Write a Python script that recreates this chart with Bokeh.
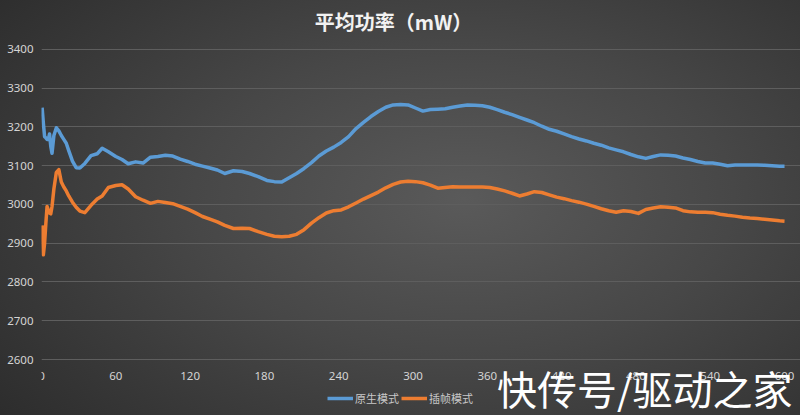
from bokeh.plotting import figure
from bokeh.models import Range1d, Legend, LegendItem, Label, FixedTicker, ColumnDataSource
from bokeh.embed import file_html
from bokeh.resources import INLINE

title_text = "平均功率（mW）"
series_names = ["原生模式", "插帧模式"]
watermark_text = "快传号/驱动之家"
x_ticks = [0, 60, 120, 180, 240, 300, 360, 420, 480, 540, 600]
y_ticks = [2600, 2700, 2800, 2900, 3000, 3100, 3200, 3300, 3400]

time_s = [0.5, 1.5, 2.5, 3.5, 4.5, 5.5, 6.5, 7.5, 8.5, 10, 12, 14, 16, 18, 20, 22, 25, 28, 31, 35,
          40, 45, 49, 54, 60, 65, 70, 76, 82, 88, 94, 100, 106, 112, 118, 124, 130, 136, 142, 148,
          155, 162, 168, 175, 182, 188, 194, 200, 206, 212, 218, 224, 230, 236, 242, 248, 254, 260,
          266, 272, 278, 284, 290, 296, 302, 308, 314, 320, 326, 332, 338, 344, 350, 356, 362, 368,
          374, 380, 386, 392, 398, 404, 410, 416, 422, 428, 434, 440, 446, 452, 458, 464, 470, 476,
          482, 488, 494, 500, 506, 512, 518, 524, 530, 536, 542, 548, 554, 560, 566, 572, 578, 584,
          590, 596, 600]

native_mw = [3250, 3210, 3175, 3172, 3168, 3168, 3182, 3150, 3132, 3178, 3198, 3190, 3178, 3168,
             3158, 3139, 3112, 3095, 3094, 3106, 3126, 3131, 3145, 3136, 3124, 3116, 3105, 3110,
             3107, 3122, 3124, 3127, 3125, 3117, 3111, 3104, 3099, 3094, 3089, 3080, 3087, 3085,
             3080, 3072, 3062, 3059, 3058, 3069, 3080, 3093, 3108, 3125, 3138, 3148, 3160, 3175,
             3196, 3212, 3227, 3240, 3251, 3257, 3258, 3257, 3249, 3241, 3245, 3246, 3247, 3251,
             3254, 3257, 3256, 3255, 3251, 3245, 3238, 3232, 3225, 3218, 3211, 3202, 3194, 3189,
             3182, 3175, 3169, 3164, 3158, 3153, 3146, 3141, 3136, 3129, 3123, 3119, 3124, 3128,
             3127, 3125, 3120, 3116, 3111, 3107, 3107, 3104, 3100, 3102, 3102, 3102, 3102, 3101,
             3100, 3099, 3099]

interp_mw = [2946, 2870, 2900, 2950, 2995, 2985, 2978, 2976, 2995, 3040, 3083, 3090, 3058, 3045,
             3035, 3022, 3006, 2993, 2983, 2979, 2998, 3014, 3022, 3044, 3049, 3051, 3040, 3020,
             3011, 3003, 3008, 3005, 3002, 2995, 2988, 2979, 2969, 2962, 2955, 2946, 2938, 2939,
             2938, 2930, 2923, 2918, 2917, 2918, 2923, 2935, 2952, 2966, 2978, 2984, 2986, 2994,
             3004, 3014, 3023, 3032, 3043, 3052, 3058, 3060, 3059, 3056, 3050, 3042, 3044, 3046,
             3045, 3045, 3045, 3045, 3044, 3040, 3035, 3029, 3022, 3027, 3033, 3031, 3025, 3019,
             3015, 3010, 3006, 3001, 2995, 2989, 2984, 2980, 2984, 2982, 2977, 2987, 2991, 2994,
             2993, 2991, 2984, 2981, 2980, 2980, 2979, 2975, 2972, 2970, 2967, 2965, 2964, 2962,
             2960, 2958, 2957]

BLUE = "#5b9bd5"
ORANGE = "#ed7d31"

src = ColumnDataSource(dict(t=time_s, native=native_mw, interp=interp_mw))

# the frame spans the full height so the title, legend and watermark are not clipped
p = figure(width=800, height=415, output_backend="svg", toolbar_location=None,
           x_range=Range1d(0, 612.9), y_range=Range1d(2455.5, 3526.4),
           min_border_left=41, min_border_right=0, min_border_top=0, min_border_bottom=0)
p.background_fill_color = None
p.border_fill_color = None
p.outline_line_color = None

r1 = p.line("t", "native", source=src, color=BLUE, line_width=3.5, line_join="round")
r2 = p.line("t", "interp", source=src, color=ORANGE, line_width=3.5, line_join="round")

for ax in (p.xaxis[0], p.yaxis[0]):
    ax.axis_line_color = None
    ax.major_tick_line_color = None
    ax.minor_tick_line_color = None
    ax.major_tick_out = 0
    ax.major_tick_in = 0
    ax.minor_tick_out = 0
    ax.minor_tick_in = 0
    ax.major_label_text_color = "#d4d4d4"
    ax.major_label_text_font = "Noto Sans"
    ax.major_label_text_font_size = "11.5px"
p.xaxis.ticker = FixedTicker(ticks=x_ticks)
p.yaxis.ticker = FixedTicker(ticks=y_ticks)
p.xaxis.fixed_location = y_ticks[0]
p.xaxis.major_label_standoff = 12
p.yaxis.major_label_standoff = 8
p.xgrid.grid_line_color = None
p.ygrid.ticker = FixedTicker(ticks=y_ticks)
p.ygrid.grid_line_color = "#5e5e5e"
p.ygrid.grid_line_width = 1

title = Label(x=284.3, y=3472, text=title_text, text_align="center", text_baseline="middle",
              text_font="Noto Sans CJK SC", text_font_style="bold",
              text_font_size="20px", text_color="#f2f2f2")
p.add_layout(title)

legend = Legend(items=[LegendItem(label=series_names[0], renderers=[r1]),
                       LegendItem(label=series_names[1], renderers=[r2])],
                orientation="horizontal", location=(286, 9),
                glyph_width=26, glyph_height=12, label_height=12, label_standoff=2, spacing=2,
                padding=0, margin=0, background_fill_alpha=0, border_line_alpha=0,
                label_text_font="Noto Sans CJK SC", label_text_font_size="11px",
                label_text_color="#c8c8c8")
p.add_layout(legend)

wm = Label(x=606.5, y=2527, text=watermark_text, text_align="right", text_baseline="middle",
           text_font="Noto Sans CJK SC", text_font_size="40px", text_color="#ffffff")
p.add_layout(wm)

html = file_html(p, INLINE, title="chart")
style = ("<style>html{min-height:100%;background:radial-gradient(ellipse 75% 85% at 58% 48%, "
         "#5a5a5a 0%, #474747 45%, #2c2c2c 100%);} body{overflow:hidden;}</style>")
html = html.replace("</head>", style + "</head>", 1)
open("out.html", "w").write(html)
